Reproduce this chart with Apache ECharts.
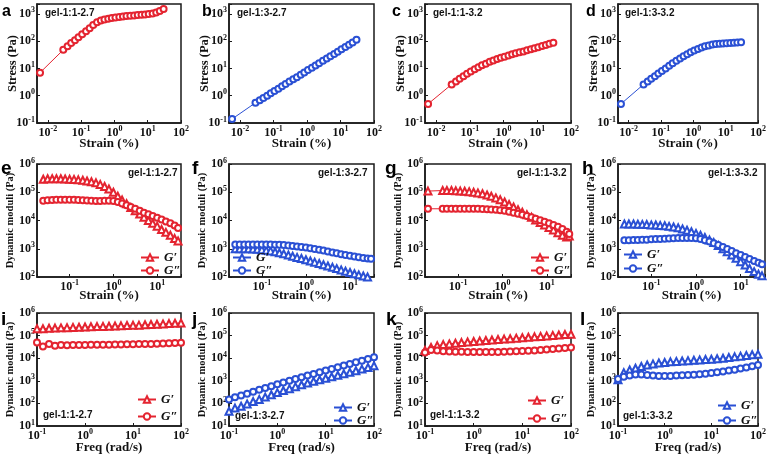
<!DOCTYPE html>
<html><head><meta charset="utf-8">
<script src="https://cdn.jsdelivr.net/npm/echarts@6/dist/echarts.min.js"></script>
<style>html,body{margin:0;padding:0;background:#fff}#c{width:769px;height:455px}</style>
</head><body><div id="c"></div>
<script>
// ---------------- DATA ----------------
// Row 1: stress vs strain (a-d)
const strainRow1 = [0.0058,0.029,0.039,0.05,0.065,0.083,0.107,0.14,0.18,0.23,0.3,0.39,0.5,0.65,0.83,1.07,1.4,1.8,2.3,3.0,3.9,5.0,6.5,8.3,10.7,14,18,23,30];
const stressA = [7,48,65,85,108,138,180,230,300,390,490,570,620,660,700,740,770,800,830,860,880,900,920,950,980,1030,1120,1280,1500];
const stressB = [0.14,0.55,0.68,0.83,1.0,1.22,1.48,1.8,2.2,2.7,3.3,4.0,4.8,5.9,7.1,8.7,10.5,12.8,15.5,19,23,28,34,41,50,61,74,90,112];
const stressC = [0.5,2.6,3.3,4.2,5.2,6.4,7.8,9.3,11,13,15,17.5,19.5,22,24.5,27,30,33,36,39,42,46,50,55,60,66,73,80,88];
const stressD = [0.5,2.6,3.3,4.2,5.2,6.5,8.0,10,12.5,15.5,19,23,28,33,39,45,52,59,65,70,75,78,80,82,84,85,87,89,91];

// Row 2: amplitude sweep (e-h)
const strainRow2 = [0.025,0.0315,0.04,0.05,0.063,0.079,0.1,0.126,0.158,0.2,0.25,0.315,0.4,0.5,0.63,0.79,1.0,1.26,1.58,2.0,2.5,3.15,4.0,5.0,6.3,7.9,10,12.6,15.8,20,25,30];
const strainG = [0.021,0.045,0.056,0.071,0.089,0.112,0.141,0.178,0.224,0.28,0.355,0.45,0.56,0.71,0.89,1.12,1.41,1.78,2.24,2.8,3.55,4.5,5.6,7.1,8.9,11.2,14.1,17.8,22.4,28,32];
const gpE  = [2.9e5,3.0e5,3.0e5,3.0e5,3.0e5,2.95e5,2.9e5,2.85e5,2.75e5,2.65e5,2.5e5,2.35e5,2.15e5,1.9e5,1.6e5,1.3e5,1.0e5,7.2e4,5.3e4,3.9e4,2.9e4,2.2e4,1.7e4,1.3e4,1.0e4,8.0e3,6.3e3,4.8e3,3.8e3,3.0e3,2.3e3,1.9e3];
const gppE = [5.0e4,5.2e4,5.3e4,5.4e4,5.4e4,5.4e4,5.4e4,5.4e4,5.3e4,5.2e4,5.1e4,5.0e4,4.9e4,4.9e4,5.0e4,5.0e4,4.9e4,4.5e4,4.0e4,3.5e4,3.0e4,2.6e4,2.2e4,1.9e4,1.65e4,1.45e4,1.25e4,1.08e4,9.3e3,8.0e3,6.6e3,5.4e3];
const gpF  = [1000,1000,1000,990,980,960,930,890,840,780,720,660,600,545,495,450,410,370,335,300,270,245,220,198,178,160,145,131,119,108,100,93];
const gppF = [1400,1400,1400,1400,1400,1400,1400,1400,1400,1390,1380,1350,1300,1250,1200,1150,1100,1040,980,920,860,800,740,690,640,600,565,530,500,475,455,440];
const gpG  = [1.1e5,1.15e5,1.15e5,1.15e5,1.12e5,1.1e5,1.08e5,1.05e5,1.0e5,9.5e4,8.8e4,8.0e4,7.2e4,6.3e4,5.4e4,4.5e4,3.7e4,3.0e4,2.4e4,1.95e4,1.6e4,1.3e4,1.05e4,8.5e3,7.0e3,5.7e3,4.6e3,3.7e3,3.0e3,2.6e3,2.8e3];
const gppG = [2.6e4,2.6e4,2.6e4,2.6e4,2.6e4,2.6e4,2.6e4,2.6e4,2.6e4,2.6e4,2.55e4,2.5e4,2.45e4,2.4e4,2.3e4,2.2e4,2.05e4,1.9e4,1.75e4,1.6e4,1.45e4,1.3e4,1.15e4,1.02e4,9.0e3,8.0e3,7.0e3,6.0e3,5.0e3,4.0e3,3.3e3];
const gpH  = [7.5e3,7.5e3,7.5e3,7.4e3,7.3e3,7.2e3,7.0e3,6.9e3,6.7e3,6.5e3,6.2e3,5.9e3,5.5e3,5.0e3,4.5e3,4.0e3,3.5e3,3.0e3,2.5e3,2.05e3,1.65e3,1.3e3,1.0e3,780,600,460,350,265,200,155,125,110];
const gppH = [2.0e3,2.0e3,2.05e3,2.05e3,2.1e3,2.1e3,2.15e3,2.2e3,2.2e3,2.25e3,2.3e3,2.35e3,2.4e3,2.4e3,2.4e3,2.4e3,2.35e3,2.2e3,2.0e3,1.8e3,1.55e3,1.35e3,1.15e3,980,830,700,600,510,430,370,320,280];

// Row 3: frequency sweep (i-l)
const freq = [0.1,0.133,0.178,0.237,0.316,0.422,0.562,0.75,1.0,1.33,1.78,2.37,3.16,4.22,5.62,7.5,10,13.3,17.8,23.7,31.6,42.2,56.2,75,100];
const gpI  = [2.0e5,2.0e5,2.1e5,2.15e5,2.2e5,2.25e5,2.3e5,2.35e5,2.4e5,2.45e5,2.5e5,2.55e5,2.6e5,2.65e5,2.7e5,2.8e5,2.85e5,2.9e5,3.0e5,3.1e5,3.2e5,3.3e5,3.4e5,3.5e5,3.6e5];
const gppI = [5.0e4,3.3e4,4.3e4,3.6e4,3.8e4,3.7e4,3.8e4,3.8e4,3.8e4,3.9e4,3.9e4,3.9e4,3.9e4,4.0e4,4.0e4,4.1e4,4.1e4,4.2e4,4.2e4,4.3e4,4.4e4,4.5e4,4.6e4,4.7e4,4.8e4];
const gpJ  = [45,62,75,95,120,150,190,240,300,370,450,550,670,800,950,1120,1300,1500,1750,2050,2400,2800,3300,3900,4600];
const gppJ = [150,185,225,270,330,400,480,580,700,840,1000,1200,1420,1700,2000,2400,2850,3350,4000,4700,5600,6600,7800,9200,11000];
const gpK  = [2.2e4,3.0e4,3.6e4,4.0e4,4.3e4,4.6e4,4.9e4,5.2e4,5.5e4,5.8e4,6.1e4,6.4e4,6.7e4,7.0e4,7.3e4,7.7e4,8.0e4,8.4e4,8.8e4,9.2e4,9.7e4,1.02e5,1.07e5,1.12e5,1.15e5];
const gppK = [1.8e4,2.3e4,2.2e4,2.05e4,2.0e4,1.95e4,1.95e4,1.9e4,1.9e4,1.9e4,1.9e4,1.9e4,1.9e4,1.95e4,2.0e4,2.05e4,2.1e4,2.15e4,2.2e4,2.3e4,2.4e4,2.55e4,2.7e4,2.85e4,3.0e4];
const gpL  = [1.1e3,2.3e3,3.0e3,3.6e3,4.3e3,5.0e3,5.6e3,6.1e3,6.5e3,6.9e3,7.2e3,7.5e3,7.8e3,8.1e3,8.4e3,8.7e3,9.0e3,9.5e3,1.0e4,1.07e4,1.15e4,1.23e4,1.32e4,1.42e4,1.5e4];
const gppL = [1.2e3,1.5e3,1.7e3,1.9e3,1.9e3,1.8e3,1.7e3,1.65e3,1.65e3,1.65e3,1.7e3,1.75e3,1.8e3,1.85e3,1.95e3,2.05e3,2.2e3,2.4e3,2.6e3,2.85e3,3.1e3,3.5e3,3.9e3,4.4e3,5.0e3];

const panelLetters = ['a','b','c','d','e','f','g','h','i','j','k','l'];
const gelNames = ['gel-1:1-2.7','gel-1:3-2.7','gel-1:1-3.2','gel-1:3-3.2'];
const legendNames = ['G\u2032','G\u2033'];

// ---------------- LAYOUT / STYLE ----------------
const RED = '#e42430', BLUE = '#2a50d4';
const COLS = [[37,144],[229,145],[425,146],[618,147]];
const ROWS = [[4,119],[164,113],[313,114]];
const SERIF = '"Liberation Serif","Times New Roman",serif';
const SANS = '"Liberation Sans",Arial,sans-serif';
const AX = '#1a1a1a';

function zip(xs, ys){ return xs.map((x,i)=>[x, ys[i]]); }
function powLabel(v){
  const e = Math.log10(v), r = Math.round(e);
  if (Math.abs(e - r) > 1e-6) return '';
  return '{b|10}{s|' + (r < 0 ? '-' + (-r) : r) + '}';
}
const rich = {
  b:{fontFamily:SERIF, fontWeight:'bold', fontSize:12, color:'#111', lineHeight:15},
  s:{fontFamily:SERIF, fontWeight:'bold', fontSize:8, color:'#111', verticalAlign:'top', lineHeight:9}
};

const rowCfg = [
  {xr:[0.0047,100], yr:[0.1,2300], xName:'Strain (%)', yName:'Stress (Pa)', yFs:12.5, yGap:18, xGap:14},
  {xr:[0.018,35], yr:[100,1e6], xName:'Strain (%)', yName:'Dynamic moduli (Pa)', yFs:10.5, yGap:21, xGap:12},
  {xr:[0.1,100], yr:[10,1e6], xName:'Freq (rad/s)', yName:'Dynamic moduli (Pa)', yFs:10.5, yGap:21, xGap:15}
];

const panels = [
  {x:[strainRow1], y:[stressA], c:RED},
  {x:[strainRow1], y:[stressB], c:BLUE},
  {x:[strainRow1], y:[stressC], c:RED},
  {x:[strainRow1], y:[stressD], c:BLUE},
  {x:[strainRow2,strainRow2], y:[gpE,gppE], c:RED},
  {x:[strainRow2,strainRow2], y:[gpF,gppF], c:BLUE},
  {x:[strainG,strainG], y:[gpG,gppG], c:RED},
  {x:[strainRow2,strainRow2], y:[gpH,gppH], c:BLUE},
  {x:[freq,freq], y:[gpI,gppI], c:RED},
  {x:[freq,freq], y:[gpJ,gppJ], c:BLUE},
  {x:[freq,freq], y:[gpK,gppK], c:RED},
  {x:[freq,freq], y:[gpL,gppL], c:BLUE}
];
// legend placement [left, top, itemGap] for panels e..l
const legendPos = [[140,251,0],[232,251,0],[530,251,0],[623,248,1],[137,393,4],[333,401,0],[527,394,5],[717,399,2]];
// gel label placement [left, centerY]
const gelPos = [[45,14],[237,14],[433,14],[625,14],[128,174],[318,174],[517,174],[708,174],[43,416],[235,417],[430,416],[623,417]];
// panel letter placement [left, top, size]
const letterPos = [[2,4,16],[202,4,16],[392,4,16],[586,4,16],[1,159,19],[192,159,19],[385,159,19],[582,159,19],[1,310,19],[192,310,19],[386,310,19],[580,310,19]];

const grid=[], xAxis=[], yAxis=[], series=[], legend=[], graphic=[];
panels.forEach((p, i) => {
  const r = Math.floor(i/4), col = i%4, rc = rowCfg[r];
  grid.push({left:COLS[col][0], top:ROWS[r][0], width:COLS[col][1], height:ROWS[r][1],
    show:true, borderColor:AX, borderWidth:1.5, backgroundColor:'#fff', containLabel:false});
  xAxis.push({type:'log', gridIndex:i, min:rc.xr[0], max:rc.xr[1], logBase:10,
    name:rc.xName, nameLocation:'middle', nameGap:rc.xGap, nameMoveOverlap:false,
    nameTextStyle:{fontFamily:SERIF, fontWeight:'bold', fontSize:13, color:'#111', verticalAlign:'top'},
    axisLine:{show:true, lineStyle:{color:AX, width:1.5}},
    axisTick:{show:true, inside:true, length:3, lineStyle:{color:AX, width:1}},
    axisLabel:{formatter:powLabel, rich:rich, margin:2},
    splitLine:{show:false}});
  yAxis.push({type:'log', gridIndex:i, min:rc.yr[0], max:rc.yr[1], logBase:10,
    name:rc.yName, nameLocation:'middle', nameGap:rc.yGap, nameMoveOverlap:false,
    nameTextStyle:{fontFamily:SERIF, fontWeight:'bold', fontSize:rc.yFs, color:'#111'},
    axisLine:{show:true, lineStyle:{color:AX, width:1.5}},
    axisTick:{show:true, inside:true, length:3, lineStyle:{color:AX, width:1}},
    axisLabel:{formatter:powLabel, rich:rich, margin:2},
    splitLine:{show:false}});
  const names = [];
  p.y.forEach((ys, k) => {
    const nm = panelLetters[i] + (k+1);
    names.push(nm);
    const sym = r === 0 ? 'emptyCircle' : (k === 0 ? 'emptyTriangle' : 'emptyCircle');
    series.push({type:'line', name:nm, xAxisIndex:i, yAxisIndex:i, data:zip(p.x[k], ys),
      symbol:sym, symbolSize: r===0 ? 6 : (k===0 ? 7 : 6), showAllSymbol:true,
      lineStyle:{color:p.c, width:1}, itemStyle:{color:p.c, borderColor:p.c, borderWidth:1},
      emphasis:{disabled:true}, animation:false, z:3});
  });
  if (r > 0) {
    const lp = legendPos[i-4];
    legend.push({data:names, left:lp[0], top:lp[1], orient:'vertical', itemGap:lp[2], padding:0,
      itemWidth:18, itemHeight:8, itemTextGap:2, selectedMode:false,
      formatter: n => legendNames[Number(n.slice(1)) - 1],
      textStyle:{fontFamily:SERIF, fontStyle:'italic', fontWeight:'bold', fontSize:13, color:'#111', lineHeight:12}});
  }
  const g = gelPos[i];
  graphic.push({type:'text', left:g[0], top:g[1]-6, z:10,
    style:{text:gelNames[col], font:'bold 10px ' + SANS, fill:'#111'}});
  const L = letterPos[i];
  graphic.push({type:'text', left:L[0], top:L[1], z:10,
    style:{text:panelLetters[i], font:'bold ' + L[2] + 'px ' + SANS, fill:'#000'}});
});

const chart = echarts.init(document.getElementById('c'), null, {renderer:'canvas'});
chart.setOption({animation:false, backgroundColor:'#fff', grid, xAxis, yAxis, series, legend, graphic});
</script></body></html>
